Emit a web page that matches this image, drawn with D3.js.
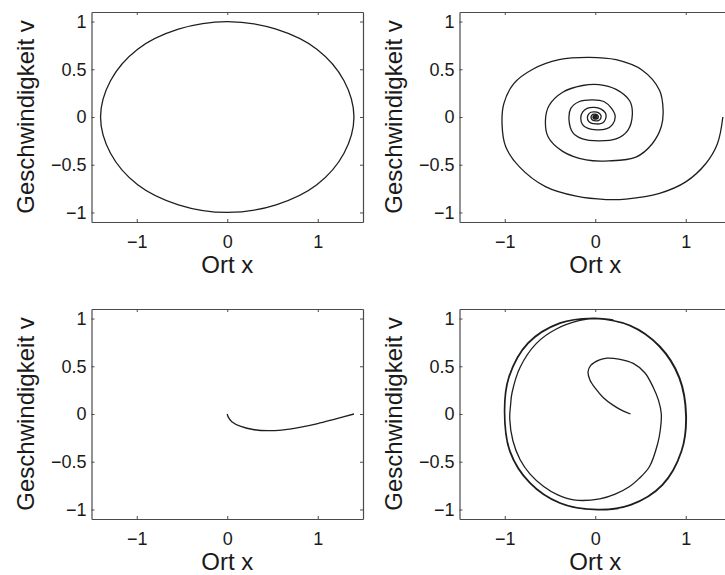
<!DOCTYPE html>
<html>
<head>
<meta charset="utf-8">
<script src="https://cdn.jsdelivr.net/npm/d3@7"></script>
<style>
  html, body { margin: 0; padding: 0; background: #fff; }
  svg { display: block; }
  text { font-family: "Liberation Sans", Arial, Helvetica, sans-serif; fill: #1a1a1a; }
</style>
</head>
<body>
<svg id="chart" width="725" height="575"></svg>
<script>
// ---------- data ----------
const xTicks = [-1, 0, 1];
const xTickLabels = ["\u22121", "0", "1"];
const yTicks = [-1, -0.5, 0, 0.5, 1];
const yTickLabels = ["\u22121", "\u22120.5", "0", "0.5", "1"];
const xDomain = [-1.5, 1.5];
const yDomain = [-1.1, 1.1];
const xLabel = "Ort x";
const yLabel = "Geschwindigkeit v";

// panel 1: undamped oscillation (closed ellipse), [x, v]
const ellipsePts = [
  [1.40, 0], [1.29, 0.38], [0.99, 0.71], [0.54, 0.92], [0, 1.0], [-0.54, 0.92],
  [-0.99, 0.71], [-1.29, 0.38], [-1.40, 0], [-1.29, -0.38], [-0.99, -0.71],
  [-0.54, -0.92], [0, -1.0], [0.54, -0.92], [0.99, -0.71], [1.29, -0.38]
];

// panel 2: damped oscillation (spiral), [x, v]
const spiralPts = [
  [1.41, 0], [1.35, -0.28], [1.22, -0.49], [1.0, -0.68], [0.71, -0.80], [0.34, -0.86],
  [0.12, -0.865], [-0.21, -0.83], [-0.55, -0.73], [-0.84, -0.52], [-0.99, -0.31],
  [-1.03, -0.07], [-1.01, 0.14], [-0.90, 0.35], [-0.69, 0.50], [-0.40, 0.60],
  [-0.07, 0.625], [0.23, 0.60], [0.52, 0.49], [0.71, 0.28], [0.75, 0.07],
  [0.73, -0.10], [0.63, -0.28], [0.45, -0.42], [0.15, -0.46], [-0.10, -0.45],
  [-0.36, -0.36], [-0.52, -0.21], [-0.55, -0.03], [-0.51, 0.12], [-0.36, 0.26],
  [-0.14, 0.33], [0.04, 0.34], [0.23, 0.29], [0.38, 0.17], [0.41, 0.03],
  [0.36, -0.14], [0.23, -0.23], [0.04, -0.25], [-0.14, -0.23], [-0.25, -0.16],
  [-0.29, -0.03], [-0.27, 0.09], [-0.18, 0.16], [-0.03, 0.18], [0.10, 0.16],
  [0.18, 0.09], [0.22, 0.01],
  [0.19, -0.08], [0.12, -0.125], [0.02, -0.135], [-0.08, -0.12], [-0.14, -0.08],
  [-0.16, -0.01], [-0.14, 0.05], [-0.09, 0.09], [-0.01, 0.10], [0.06, 0.085],
  [0.11, 0.045], [0.12, 0.005],
  [0.10, -0.045], [0.065, -0.068], [0.01, -0.073], [-0.045, -0.065], [-0.075, -0.043],
  [-0.087, -0.005], [-0.075, 0.028], [-0.048, 0.05], [-0.005, 0.054], [0.033, 0.046],
  [0.058, 0.024], [0.065, 0.003],
  [0.054, -0.024], [0.035, -0.037], [0.005, -0.04], [-0.024, -0.035], [-0.04, -0.023],
  [-0.047, -0.003], [-0.04, 0.015], [-0.026, 0.027], [-0.003, 0.029], [0.018, 0.025],
  [0.031, 0.013], [0.035, 0.002],
  [0.029, -0.013], [0.019, -0.02], [0.003, -0.022], [-0.013, -0.019], [-0.022, -0.012],
  [-0.025, -0.002], [-0.022, 0.008], [-0.014, 0.015], [-0.002, 0.016], [0.01, 0.013],
  [0.017, 0.007], [0.019, 0.001], [0.012, -0.006], [0.0, -0.009], [-0.01, -0.004],
  [-0.009, 0.005], [0.0, 0.006], [0.004, 0.0], [0, 0]
];

// panel 3: overdamped motion, [x, v]
const overdampedPts = [
  [1.40, 0], [1.2, -0.05], [1.0, -0.10], [0.8, -0.14], [0.6, -0.168], [0.45, -0.175],
  [0.3, -0.165], [0.15, -0.13], [0.05, -0.08], [0.01, -0.03], [0, 0]
];

// panel 4: self-excited oscillation approaching a limit cycle, [x, v]
const limitCyclePts = [
  [0.39, 0], [0.30, 0.035], [0.20, 0.09], [0.09, 0.17], [0.0, 0.27], [-0.06, 0.36],
  [-0.08, 0.44], [-0.05, 0.51], [0.04, 0.565], [0.13, 0.585], [0.26, 0.575], [0.42, 0.53],
  [0.55, 0.43], [0.64, 0.28], [0.70, 0.14], [0.73, 0.0], [0.72, -0.16], [0.69, -0.31],
  [0.60, -0.55], [0.48, -0.68], [0.38, -0.76], [0.22, -0.84], [0.05, -0.89],
  [-0.24, -0.90], [-0.42, -0.845], [-0.57, -0.76], [-0.72, -0.63], [-0.83, -0.48],
  [-0.91, -0.28], [-0.945, -0.05], [-0.935, 0.10], [-0.92, 0.22], [-0.83, 0.49],
  [-0.65, 0.74], [-0.43, 0.89], [-0.17, 0.98], [0.0, 1.0],
  [0.38, 0.925], [0.707, 0.707], [0.925, 0.38], [1.0, -0.02], [0.95, -0.39],
  [0.74, -0.74], [0.39, -0.95], [0.03, -1.0], [-0.39, -0.93], [-0.72, -0.72],
  [-0.94, -0.39], [-1.0, 0.03], [-0.95, 0.39], [-0.74, 0.74], [-0.39, 0.95], [-0.02, 1.0],
  [0.385, 0.93], [0.712, 0.712], [0.932, 0.383], [1.007, -0.02], [0.955, -0.392],
  [0.745, -0.745], [0.392, -0.955], [0.03, -1.005], [-0.392, -0.935], [-0.724, -0.724],
  [-0.945, -0.392], [-1.004, 0.03], [-0.955, 0.392], [-0.745, 0.745], [-0.392, 0.955],
  [-0.02, 1.005], [0.2, 0.985]
];

// ---------- layout ----------
const panels = [
  { left: 91.5, top: 12, data: ellipsePts, closed: true },
  { left: 459.5, top: 12, data: spiralPts, closed: false },
  { left: 91.5, top: 309, data: overdampedPts, closed: false },
  { left: 459.5, top: 309, data: limitCyclePts, closed: false }
];
const W = 271.5, H = 210;

const svg = d3.select("#chart");
svg.append("rect").attr("width", 725).attr("height", 575).attr("fill", "#fff");

const fmt = (ticks, labels) => d => labels[ticks.indexOf(d)];

panels.forEach(p => {
  const g = svg.append("g").attr("transform", `translate(${p.left},${p.top})`);
  const x = d3.scaleLinear().domain(xDomain).range([0, W]);
  const y = d3.scaleLinear().domain(yDomain).range([H, 0]);

  // curve
  const line = d3.line()
    .x(d => x(d[0])).y(d => y(d[1]))
    .curve(p.closed ? d3.curveCatmullRomClosed.alpha(0.5) : d3.curveCatmullRom.alpha(0.5));
  g.append("path").datum(p.data)
    .attr("d", line)
    .attr("fill", "none")
    .attr("stroke", "#1e1e1e")
    .attr("stroke-width", 1.3)
    .attr("stroke-linejoin", "round");

  // axes (ticks pointing inward, box on all four sides)
  const styleAxis = sel => {
    sel.select(".domain").attr("stroke", "#4a4a4a").attr("stroke-width", 1.2);
    sel.selectAll(".tick line").attr("stroke", "#4a4a4a").attr("stroke-width", 1);
    sel.selectAll(".tick text").style("font-size", "18px")
      .style("font-family", '"Liberation Sans", Arial, Helvetica, sans-serif').attr("fill", "#1a1a1a");
  };
  g.append("g").attr("transform", `translate(0,${H})`)
    .call(d3.axisBottom(x).tickValues(xTicks).tickFormat(fmt(xTicks, xTickLabels))
      .tickSizeInner(-3).tickSizeOuter(0).tickPadding(13))
    .call(styleAxis);
  g.append("g")
    .call(d3.axisTop(x).tickValues(xTicks).tickFormat("").tickSizeInner(-3).tickSizeOuter(0))
    .call(styleAxis);
  g.append("g")
    .call(d3.axisLeft(y).tickValues(yTicks).tickFormat(fmt(yTicks, yTickLabels))
      .tickSizeInner(-3).tickSizeOuter(0).tickPadding(5))
    .call(styleAxis);
  g.append("g").attr("transform", `translate(${W},0)`)
    .call(d3.axisRight(y).tickValues(yTicks).tickFormat("").tickSizeInner(-3).tickSizeOuter(0))
    .call(styleAxis);
  g.selectAll(".domain").attr("fill", "none");

  // axis labels
  g.append("text")
    .attr("x", W / 2).attr("y", H + 51)
    .attr("text-anchor", "middle")
    .style("font-size", "24px")
    .text(xLabel);
  g.append("text")
    .attr("transform", `translate(-58,${H / 2}) rotate(-90)`)
    .attr("text-anchor", "middle")
    .style("font-size", "24px")
    .text(yLabel);
});
</script>
</body>
</html>
